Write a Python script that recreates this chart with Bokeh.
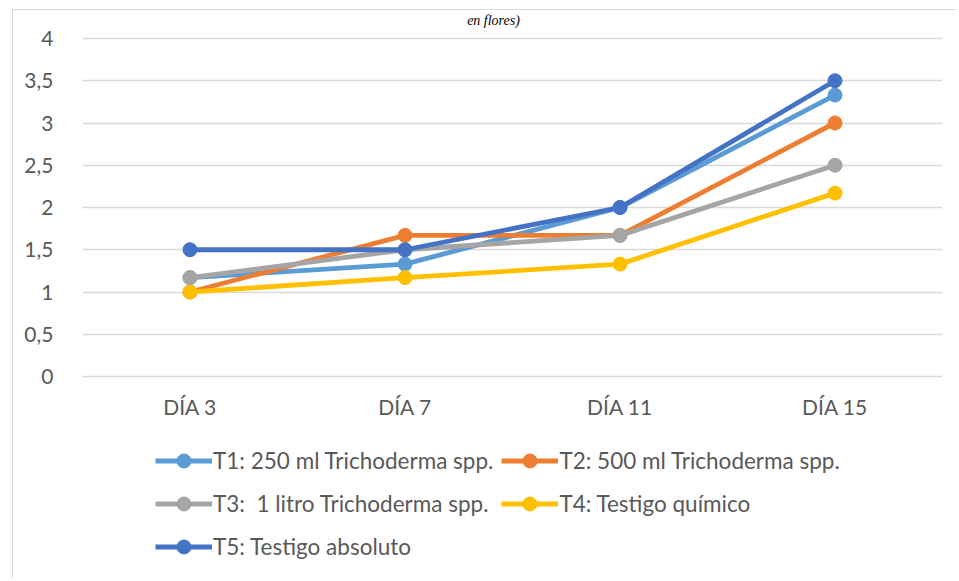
from bokeh.plotting import figure
from bokeh.models import (Legend, LegendItem, FixedTicker, Range1d, FactorRange, Label,
                          CategoricalAxis)
from bokeh.embed import file_html
from bokeh.resources import INLINE

days = ["DÍA 3", "DÍA 7", "DÍA 11", "DÍA 15"]
t1 = [1.17, 1.33, 2.0, 3.33]
t2 = [1.0, 1.67, 1.67, 3.0]
t3 = [1.17, 1.5, 1.67, 2.5]
t4 = [1.0, 1.17, 1.33, 2.17]
t5 = [1.5, 1.5, 2.0, 3.5]
names = ["T1: 250 ml Trichoderma spp.", "T2: 500 ml Trichoderma spp.",
         "T3:  1 litro Trichoderma spp.", "T4: Testigo químico", "T5: Testigo absoluto"]
colors = ["#5B9BD5", "#ED7D31", "#A5A5A5", "#FFC000", "#4472C4"]
y_ticks = [0, 0.5, 1, 1.5, 2, 2.5, 3, 3.5, 4]
y_labels = ["0", "0,5", "1", "1,5", "2", "2,5", "3", "3,5", "4"]
title_text = "en flores)"

FONT = "Lato"
W, H = 944, 569
TOP_PX, ZERO_PX = 28, 366          # canvas pixels of the 4 and 0 gridlines
ppu = (ZERO_PX - TOP_PX) / 4.0
y_end = 4 + TOP_PX / ppu
y_start = -(H - ZERO_PX) / ppu

p = figure(x_range=FactorRange(*days, range_padding=0), y_range=Range1d(y_start, y_end),
           width=W, height=H, output_backend="svg", toolbar_location=None,
           x_axis_location=None,
           min_border_left=69, min_border_right=15, min_border_top=0, min_border_bottom=0)
p.outline_line_color = None
p.background_fill_color = "white"
p.border_fill_color = "white"
p.styles = {"border-left": "1px solid #D9D9D9", "border-top": "1px solid #D9D9D9",
            "margin-left": "12px", "margin-top": "9px"}

p.xgrid.grid_line_color = None
p.ygrid.ticker = FixedTicker(ticks=y_ticks)
p.ygrid.grid_line_color = "#D9D9D9"
p.ygrid.grid_line_width = 1.3

xaxis = CategoricalAxis(fixed_location=0)
p.add_layout(xaxis, "below")

p.yaxis.ticker = FixedTicker(ticks=y_ticks)
p.yaxis.major_label_overrides = {float(t): l for t, l in zip(y_ticks, y_labels)}
for ax in (xaxis, p.yaxis[0]):
    ax.axis_line_color = None
    ax.major_tick_line_color = None
    ax.minor_tick_line_color = None
    ax.major_tick_out = 0
    ax.major_tick_in = 0
    ax.major_label_text_font = FONT
    ax.major_label_text_font_size = "21px"
    ax.major_label_text_color = "#595959"
p.yaxis.major_label_standoff = 29
xaxis.major_label_standoff = 17

items = []
for name, ys, c in zip(names, [t1, t2, t3, t4, t5], colors):
    lr = p.line(days, ys, line_color=c, line_width=4.8)
    sr = p.scatter(days, ys, size=14, fill_color=c, line_color=c)
    items.append(LegendItem(label=name, renderers=[lr, sr]))

legend = Legend(items=items, orientation="horizontal", ncols=2, location=(73, 15),
                glyph_width=57, glyph_height=35, label_height=35, label_standoff=1,
                spacing=8, padding=0, margin=0, border_line_color=None,
                background_fill_alpha=0, label_text_font=FONT,
                label_text_font_size="22.5px", label_text_color="#595959")
p.add_layout(legend)

p.add_layout(Label(x=411, y=H - 2, x_units="screen", y_units="screen", text=title_text,
                   text_font="Liberation Serif", text_font_style="italic",
                   text_font_size="14px", text_align="center", text_baseline="top",
                   text_color="#000000"))

open("out.html", "w").write(file_html(p, INLINE))
